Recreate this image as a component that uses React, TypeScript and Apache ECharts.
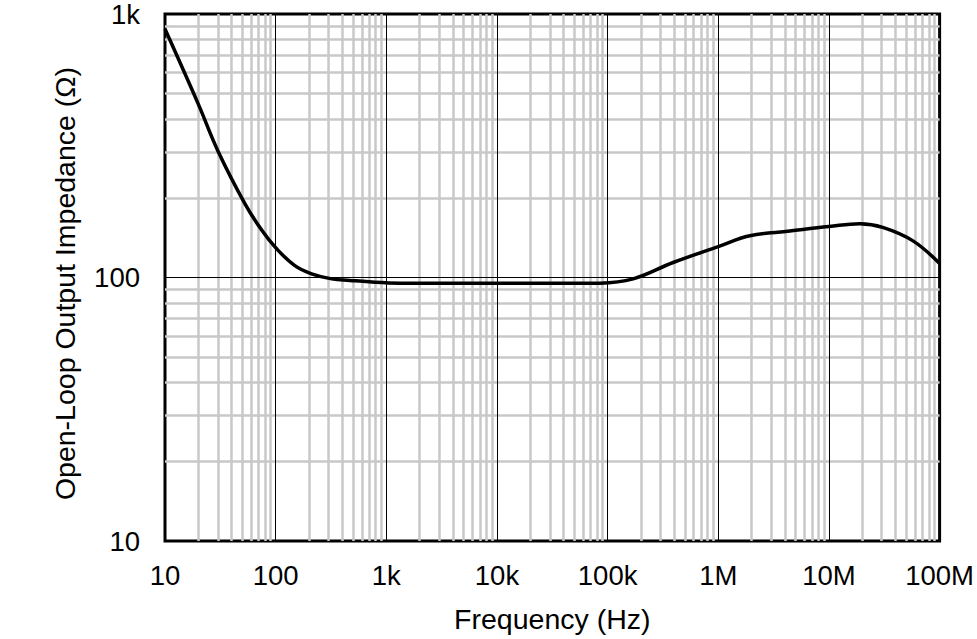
import React, { useEffect, useRef } from "react";
import * as echarts from "echarts";

// Frequency (Hz) and open-loop output impedance (Ω)
const freqHz = [10, 20, 30, 53, 75, 102, 149, 211, 321, 469, 700, 1330, 3000, 10000, 30000, 85000, 170000, 391000, 1000000, 1930000, 4430000, 10000000, 19000000, 30600000, 57000000, 100000000];
const zOhm = [877, 455, 303, 190, 151, 128.5, 111, 103.3, 98.8, 97.5, 96.3, 95.2, 95, 95, 95, 95.2, 98.8, 114, 131, 144, 150, 156, 160, 155, 138, 113];

const xTickLabels = ["10", "100", "1k", "10k", "100k", "1M", "10M", "100M"];
const yTickLabels = ["10", "100", "1k"];
const xDecades = [10, 100, 1000, 10000, 100000, 1000000, 10000000];
const yDecades = [10, 100];
const minorSteps = [2, 3, 4, 5, 6, 7, 8, 9];
const xTitle = "Frequency (Hz)";
const yTitle = "Open-Loop Output Impedance (Ω)";

const FONT = "'Liberation Sans', Arial, Helvetica, sans-serif";

function labelFor(labels: string[], v: number, base: number) {
  const i = Math.round(Math.log10(v) - Math.log10(base));
  return labels[i] ?? "";
}

export default function App() {
  const ref = useRef<HTMLDivElement>(null);
  useEffect(() => {
    if (!ref.current) return;
    const chart = echarts.init(ref.current, undefined, { renderer: "svg" });
    const minorX: any[] = [];
    xDecades.forEach((d) => minorSteps.forEach((m) => minorX.push({ xAxis: d * m })));
    const minorY: any[] = [];
    yDecades.forEach((d) => minorSteps.forEach((m) => minorY.push({ yAxis: d * m })));
    const majorX = xDecades.slice(1).map((d) => ({ xAxis: d }));
    const majorY = [{ yAxis: 100 }];

    chart.setOption({
      animation: false,
      backgroundColor: "#fff",
      grid: {
        left: 165,
        right: 37,
        top: 13,
        bottom: 98,
        show: true,
        borderColor: "#000",
        borderWidth: 3,
        backgroundColor: "transparent",
      },
      graphic: [
        {
          type: "text",
          x: 65,
          y: 283.5,
          rotation: Math.PI / 2,
          style: {
            text: yTitle,
            fontFamily: FONT,
            fontSize: 28.5,
            fill: "#000",
            align: "center",
            verticalAlign: "middle",
          },
        },
      ],
      xAxis: {
        type: "log",
        logBase: 10,
        min: 10,
        max: 100000000,
        name: xTitle,
        nameLocation: "middle",
        nameGap: 63,
        nameTextStyle: { fontFamily: FONT, fontSize: 28.5, color: "#000" },
        axisLine: { show: false },
        axisTick: { show: false },
        splitLine: { show: false },
        axisLabel: {
          fontFamily: FONT,
          fontSize: 27.5,
          color: "#000",
          margin: 20,
          formatter: (v: number) => labelFor(xTickLabels, v, 10),
        },
      },
      yAxis: {
        type: "log",
        logBase: 10,
        min: 10,
        max: 1000,
        axisLine: { show: false },
        axisTick: { show: false },
        splitLine: { show: false },
        axisLabel: {
          fontFamily: FONT,
          fontSize: 27.5,
          color: "#000",
          margin: 25,
          formatter: (v: number) => labelFor(yTickLabels, v, 10),
        },
      },
      series: [
        {
          type: "line",
          z: 1,
          silent: true,
          data: [[10, 10]],
          symbol: "none",
          lineStyle: { width: 0 },
          markLine: {
            silent: true,
            symbol: "none",
            label: { show: false },
            animation: false,
            lineStyle: { color: "#c8c8c8", width: 2.5, type: "solid" },
            data: [...minorX, ...minorY],
          },
        },
        {
          type: "line",
          z: 2,
          silent: true,
          data: [[10, 10]],
          symbol: "none",
          lineStyle: { width: 0 },
          markLine: {
            silent: true,
            symbol: "none",
            label: { show: false },
            animation: false,
            lineStyle: { color: "#000", width: 1, type: "solid" },
            data: [...majorX, ...majorY],
          },
        },
        {
          type: "line",
          z: 5,
          data: freqHz.map((f, i) => [f, zOhm[i]]),
          smooth: 0.4,
          symbol: "none",
          lineStyle: { color: "#000", width: 3.5 },
        },
      ],
    });
    return () => chart.dispose();
  }, []);
  return (
    <div
      ref={ref}
      style={{ position: "fixed", left: 0, top: 0, width: 977, height: 639, background: "#fff" }}
    />
  );
}
